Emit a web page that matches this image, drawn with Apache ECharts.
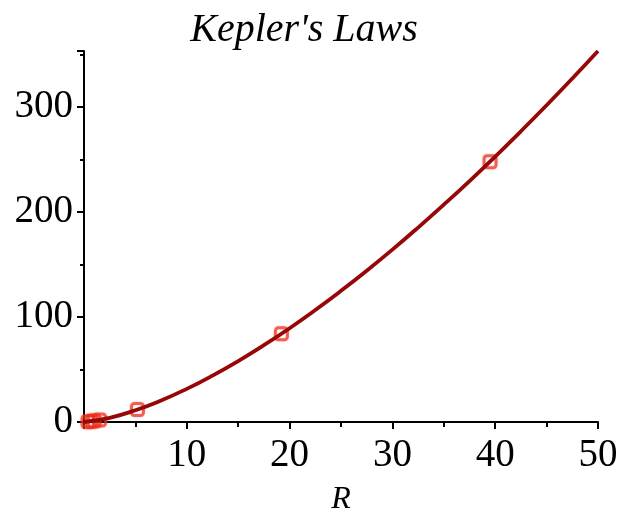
<!DOCTYPE html>
<html>
<head>
<meta charset="utf-8">
<script src="https://cdn.jsdelivr.net/npm/echarts@6/dist/echarts.min.js"></script>
<style>html,body{margin:0;padding:0;background:#fff}#c{width:618px;height:509px}</style>
</head>
<body>
<div id="c"></div>
<script>
// Fitted curve T vs R
const curveR = [0, 2.5, 5, 7.5, 10, 12.5, 15, 17.5, 20, 22.5, 25, 27.5, 30, 32.5, 35, 37.5, 40, 42.5, 45, 47.5, 50];
const curveT = [0, 4.0, 11.2, 20.5, 31.6, 44.2, 58.1, 73.2, 89.4, 106.7, 125.0, 144.2, 164.3, 185.3, 207.1, 229.6, 253.0, 277.1, 301.9, 327.4, 353.6];
// Data points (planets)
const pointR = [0.39, 0.72, 1.0, 1.52, 5.2, 19.2, 39.5];
const pointT = [0.24, 0.62, 1.0, 1.88, 11.9, 84.0, 248.0];
const xTicks = [0, 10, 20, 30, 40, 50];
const yTicks = [0, 100, 200, 300];
const titleText = "Kepler's Laws";
const xName = "R";

const chart = echarts.init(document.getElementById('c'), null, {renderer: 'canvas'});
const serif = '"Liberation Serif", "DejaVu Serif", serif';
chart.setOption({
  animation: false,
  backgroundColor: '#fff',
  title: {
    text: titleText, left: 299, top: 5, textAlign: 'center',
    textStyle: {fontFamily: serif, fontStyle: 'italic', fontWeight: 'normal', fontSize: 40, color: '#000'}
  },
  grid: {left: 84, right: 20, top: 51, bottom: 87, containLabel: false, outerBoundsMode: 'none'},
  xAxis: {
    type: 'value', min: 0, max: 50, interval: 10,
    name: xName, nameLocation: 'middle', nameGap: 62,
    nameTextStyle: {fontFamily: serif, fontStyle: 'italic', fontSize: 32, color: '#000'},
    axisLine: {show: true, onZero: false, lineStyle: {color: '#000', width: 2}},
    axisTick: {show: true, inside: false, length: 7, lineStyle: {color: '#000', width: 2}},
    minorTick: {show: true, splitNumber: 2, length: 5, lineStyle: {color: '#000', width: 2}},
    splitLine: {show: false},
    axisLabel: {fontFamily: serif, fontSize: 39, color: '#000', margin: 14,
      formatter: v => (v === 0 ? '' : String(v))}
  },
  yAxis: {
    type: 'value', min: 0, max: 353.6, interval: 100,
    axisLine: {show: true, onZero: false, lineStyle: {color: '#000', width: 2}},
    axisTick: {show: true, inside: false, length: 7, lineStyle: {color: '#000', width: 2}},
    minorTick: {show: true, splitNumber: 2, length: 4, lineStyle: {color: '#000', width: 2}},
    splitLine: {show: false},
    axisLabel: {fontFamily: serif, fontSize: 39, color: '#000', margin: 11,
      showMaxLabel: false,
      formatter: v => (yTicks.indexOf(v) >= 0 ? String(v) : '')}
  },
  series: [
    {
      type: 'scatter', z: 1,
      data: pointR.map((r, i) => [r, pointT[i]]),
      symbol: 'roundRect', symbolSize: 12,
      itemStyle: {color: 'rgba(255,255,255,0)', borderColor: 'rgba(236,48,28,0.85)', borderWidth: 3,
        shadowBlur: 2, shadowColor: 'rgba(236,48,28,0.5)'}
    },
    {
      type: 'line', z: 3, smooth: true, showSymbol: false,
      data: curveR.map((r, i) => [r, curveT[i]]),
      lineStyle: {color: '#960707', width: 3.8}
    }
  ]
});
</script>
</body>
</html>
